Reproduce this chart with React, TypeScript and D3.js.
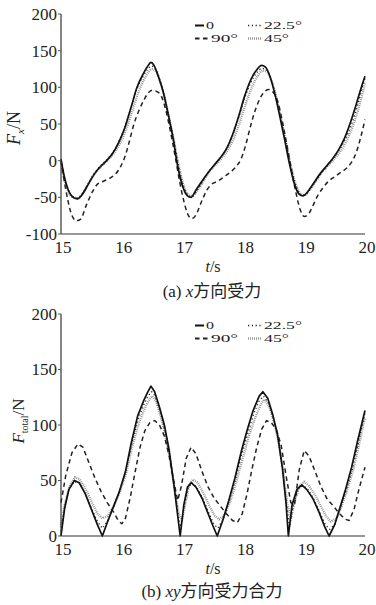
import React from "react";
import * as d3 from "d3";

type Pt = [number, number];

// shared axis values
const timeTicks = [15, 16, 17, 18, 19, 20];
const fxTicks = [-100, -50, 0, 50, 100, 150, 200];
const ftTicks = [0, 50, 100, 150, 200];
const angleNames = ["0", "22.5°", "90°", "45°"];

// (a) x-direction force, [t, F]
const fx0: Pt[] = [
  [15.0, 2], [15.05, -20], [15.12, -40], [15.2, -50], [15.27, -52], [15.35, -46], [15.45, -32],
  [15.55, -18], [15.65, -8], [15.75, 0], [15.85, 10], [15.95, 25], [16.05, 45], [16.15, 72],
  [16.25, 100], [16.35, 118], [16.42, 128], [16.48, 134], [16.53, 130], [16.6, 115], [16.68, 94],
  [16.76, 64], [16.84, 32], [16.92, -8], [17.0, -35], [17.08, -48], [17.14, -50], [17.22, -40],
  [17.3, -30], [17.42, -16], [17.52, -6], [17.62, 4], [17.72, 16], [17.82, 35], [17.92, 60],
  [18.02, 88], [18.12, 110], [18.22, 124], [18.3, 130], [18.36, 128], [18.44, 114], [18.52, 90],
  [18.6, 60], [18.68, 28], [18.76, -5], [18.84, -32], [18.92, -46], [18.98, -48], [19.06, -42],
  [19.16, -30], [19.26, -18], [19.36, -8], [19.46, 2], [19.56, 14], [19.66, 30], [19.76, 52],
  [19.86, 78], [19.94, 100], [20.0, 115],
];
const fx225: Pt[] = [
  [15.0, 0], [15.05, -22], [15.12, -40], [15.2, -49], [15.27, -51], [15.35, -45], [15.45, -31],
  [15.55, -17], [15.65, -7], [15.75, 1], [15.85, 11], [15.95, 26], [16.05, 46], [16.15, 72],
  [16.25, 98], [16.35, 115], [16.42, 124], [16.49, 129], [16.55, 126], [16.62, 112], [16.7, 88],
  [16.78, 58], [16.86, 26], [16.94, -10], [17.02, -36], [17.09, -47], [17.15, -49], [17.23, -42],
  [17.32, -30], [17.42, -16], [17.52, -6], [17.62, 4], [17.72, 16], [17.82, 34], [17.92, 58],
  [18.02, 85], [18.12, 106], [18.22, 120], [18.31, 126], [18.38, 124], [18.46, 110], [18.54, 86],
  [18.62, 56], [18.7, 24], [18.78, -8], [18.86, -33], [18.94, -46], [19.0, -47], [19.08, -41],
  [19.18, -29], [19.28, -17], [19.38, -7], [19.48, 3], [19.58, 15], [19.68, 30], [19.78, 50],
  [19.88, 76], [19.95, 98], [20.0, 112],
];
const fx45: Pt[] = [
  [15.0, -2], [15.05, -24], [15.12, -42], [15.2, -50], [15.28, -51], [15.36, -44], [15.46, -30],
  [15.56, -17], [15.66, -8], [15.76, 0], [15.86, 9], [15.96, 22], [16.06, 40], [16.16, 64],
  [16.26, 90], [16.36, 110], [16.44, 121], [16.5, 125], [16.56, 122], [16.63, 108], [16.71, 84],
  [16.79, 54], [16.87, 22], [16.95, -12], [17.03, -37], [17.1, -47], [17.16, -48], [17.24, -41],
  [17.34, -28], [17.44, -15], [17.54, -6], [17.64, 3], [17.74, 14], [17.84, 30], [17.94, 52],
  [18.04, 78], [18.14, 100], [18.24, 116], [18.32, 123], [18.39, 121], [18.47, 107], [18.55, 83],
  [18.63, 53], [18.71, 22], [18.79, -10], [18.87, -34], [18.95, -46], [19.01, -47], [19.09, -40],
  [19.19, -28], [19.29, -16], [19.39, -7], [19.49, 2], [19.59, 12], [19.69, 26], [19.79, 45],
  [19.89, 70], [19.96, 92], [20.0, 106],
];
const fx90: Pt[] = [
  [15.0, 0], [15.08, -40], [15.16, -70], [15.25, -82], [15.32, -80], [15.42, -60], [15.52, -42],
  [15.6, -32], [15.7, -28], [15.8, -24], [15.9, -18], [15.98, -8], [16.05, 5], [16.12, 25],
  [16.2, 50], [16.28, 68], [16.36, 82], [16.44, 93], [16.5, 96], [16.58, 94], [16.65, 88],
  [16.72, 70], [16.8, 40], [16.88, 5], [16.95, -28], [17.02, -55], [17.08, -72], [17.15, -79],
  [17.22, -74], [17.3, -58], [17.4, -40], [17.48, -32], [17.58, -28], [17.68, -22], [17.78, -16],
  [17.88, -8], [17.96, 2], [18.04, 22], [18.12, 48], [18.2, 70], [18.28, 86], [18.36, 95],
  [18.42, 97], [18.5, 92], [18.56, 82], [18.63, 58], [18.7, 28], [18.78, -8], [18.86, -42],
  [18.93, -66], [19.0, -76], [19.06, -74], [19.14, -62], [19.22, -48], [19.3, -38], [19.4, -28],
  [19.5, -22], [19.6, -16], [19.7, -10], [19.78, -2], [19.86, 12], [19.93, 32], [20.0, 56],
];

// (b) resultant xy force, [t, F]
const ft0: Pt[] = [
  [15.0, 0], [15.06, 25], [15.13, 42], [15.22, 50], [15.3, 48], [15.4, 38], [15.5, 24],
  [15.6, 10], [15.68, 0], [15.76, 12], [15.86, 26], [15.96, 40], [16.06, 58], [16.16, 85],
  [16.26, 108], [16.36, 122], [16.43, 130], [16.48, 135], [16.54, 130], [16.62, 116], [16.7, 100],
  [16.78, 77], [16.86, 45], [16.92, 18], [16.96, 0], [17.02, 28], [17.08, 44], [17.14, 48],
  [17.22, 44], [17.32, 34], [17.42, 20], [17.5, 9], [17.57, 0], [17.66, 14], [17.76, 32],
  [17.86, 52], [17.96, 75], [18.06, 95], [18.16, 113], [18.26, 126], [18.32, 130], [18.4, 124],
  [18.48, 110], [18.56, 92], [18.64, 62], [18.7, 30], [18.74, 0], [18.8, 28], [18.88, 42],
  [18.96, 46], [19.04, 42], [19.14, 34], [19.24, 22], [19.34, 8], [19.41, 0], [19.5, 10],
  [19.58, 24], [19.68, 42], [19.78, 62], [19.88, 86], [19.96, 104], [20.0, 113],
];
const ft225: Pt[] = [
  [15.0, 4], [15.06, 26], [15.13, 42], [15.22, 49], [15.3, 48], [15.4, 38], [15.5, 25],
  [15.6, 13], [15.68, 7], [15.76, 13], [15.86, 26], [15.96, 40], [16.06, 57], [16.16, 82],
  [16.26, 104], [16.36, 118], [16.43, 126], [16.49, 130], [16.55, 126], [16.63, 112], [16.71, 95],
  [16.79, 72], [16.87, 42], [16.93, 18], [16.97, 8], [17.03, 28], [17.09, 43], [17.15, 48],
  [17.23, 44], [17.33, 34], [17.43, 21], [17.51, 11], [17.58, 7], [17.67, 15], [17.77, 32],
  [17.87, 51], [17.97, 73], [18.07, 92], [18.17, 110], [18.26, 122], [18.33, 126], [18.41, 120],
  [18.49, 106], [18.57, 88], [18.65, 58], [18.71, 28], [18.76, 8], [18.82, 28], [18.9, 42],
  [18.98, 46], [19.06, 42], [19.16, 33], [19.26, 21], [19.35, 10], [19.42, 6], [19.51, 11],
  [19.59, 24], [19.69, 41], [19.79, 60], [19.89, 84], [19.96, 101], [20.0, 110],
];
const ft45: Pt[] = [
  [15.0, 8], [15.06, 28], [15.14, 45], [15.23, 53], [15.31, 51], [15.41, 42], [15.51, 30],
  [15.6, 20], [15.68, 16], [15.77, 18], [15.87, 27], [15.97, 40], [16.07, 56], [16.17, 80],
  [16.27, 100], [16.37, 114], [16.44, 122], [16.5, 126], [16.56, 122], [16.64, 108], [16.72, 90],
  [16.8, 66], [16.88, 38], [16.94, 20], [16.99, 14], [17.05, 30], [17.11, 46], [17.17, 51],
  [17.25, 48], [17.35, 38], [17.45, 26], [17.53, 18], [17.6, 15], [17.69, 19], [17.79, 32],
  [17.89, 50], [17.99, 70], [18.09, 90], [18.19, 106], [18.28, 118], [18.34, 123], [18.42, 117],
  [18.5, 103], [18.58, 84], [18.66, 56], [18.72, 30], [18.78, 15], [18.84, 30], [18.92, 45],
  [19.0, 49], [19.08, 45], [19.18, 37], [19.28, 26], [19.37, 17], [19.44, 13], [19.53, 16],
  [19.61, 26], [19.71, 42], [19.81, 60], [19.91, 84], [19.97, 100], [20.0, 106],
];
const ft90: Pt[] = [
  [15.0, 30], [15.08, 55], [15.18, 75], [15.28, 83], [15.36, 80], [15.46, 66], [15.56, 52],
  [15.66, 40], [15.76, 30], [15.86, 22], [15.94, 14], [16.0, 11], [16.06, 16], [16.14, 35],
  [16.22, 58], [16.3, 80], [16.38, 95], [16.46, 102], [16.54, 104], [16.62, 100], [16.7, 90],
  [16.78, 72], [16.86, 48], [16.92, 32], [16.98, 45], [17.06, 70], [17.14, 80], [17.22, 74],
  [17.32, 58], [17.42, 44], [17.52, 34], [17.62, 27], [17.72, 20], [17.82, 14], [17.9, 12],
  [17.98, 20], [18.06, 38], [18.14, 60], [18.22, 80], [18.3, 96], [18.38, 104], [18.46, 102],
  [18.54, 96], [18.62, 82], [18.7, 55], [18.78, 30], [18.84, 28], [18.92, 60], [19.0, 77],
  [19.08, 72], [19.18, 58], [19.28, 44], [19.38, 33], [19.48, 27], [19.58, 20], [19.68, 15],
  [19.74, 14], [19.82, 24], [19.9, 42], [20.0, 62],
];

const serif = "'Liberation Serif', 'Times New Roman', Times, serif";
const cjk = "'Noto Sans CJK SC', sans-serif";

// line styles, in the same order as angleNames
const styles = [
  { stroke: "#111", dash: undefined, width: 1.7 },
  { stroke: "#222", dash: "1.2,2.6", width: 1.3 },
  { stroke: "#222", dash: "4.5,3.5", width: 1.5 },
  { stroke: "#8e8e8e", dash: "0.9,1.1", width: 2.3 },
];
// stretched legend text widths (the scanned figure is wide)
const legendTextWidth = [8, 38, 27, 25];

const x0 = 61,
  x1 = 365;

function Panel({ series, yDomain, yTicks, top, bottom, curve, yLabel, caption }) {
  const xScale = d3.scaleLinear().domain([15, 20]).range([x0, x1]);
  const yScale = d3.scaleLinear().domain(yDomain).range([bottom, top]);
  const line = d3
    .line<Pt>()
    .x((d) => xScale(d[0]))
    .y((d) => yScale(d[1]))
    .curve(curve);

  // draw grey 45 first, then 90, 22.5 and the solid line on top
  const order = [3, 2, 1, 0];

  const legendRows = [
    [0, 1],
    [2, 3],
  ];

  return (
    <g>
      {order.map((i) => (
        <path
          key={"s" + i}
          d={line(series[i])}
          fill="none"
          stroke={styles[i].stroke}
          strokeWidth={styles[i].width}
          strokeDasharray={styles[i].dash}
          strokeLinejoin="round"
        />
      ))}

      <line x1={x0} x2={x0} y1={top} y2={bottom} stroke="#333" strokeWidth={1.2} />
      <line x1={x0} x2={x1} y1={bottom} y2={bottom} stroke="#333" strokeWidth={1.2} />

      {yTicks.map((t) => (
        <g key={"yt" + t}>
          <line x1={x0 - 3} x2={x0} y1={yScale(t)} y2={yScale(t)} stroke="#555" />
          <text
            x={57}
            y={yScale(t)}
            dy="0.35em"
            textAnchor="end"
            fontFamily={serif}
            fontSize={17}
            fill="#222"
          >
            {t}
          </text>
        </g>
      ))}

      {timeTicks.map((t) => (
        <text
          key={"xt" + t}
          x={xScale(t) + 2}
          y={bottom + 19}
          textAnchor="middle"
          fontFamily={serif}
          fontSize={17}
          fill="#222"
        >
          {t}
        </text>
      ))}

      <text x={213} y={bottom + 38} textAnchor="middle" fontFamily={serif} fontSize={16} fill="#222">
        <tspan fontStyle="italic">t</tspan>/s
      </text>

      {yLabel}

      {legendRows.map((row, r) =>
        row.map((i, c) => {
          const lx = 195 + c * 53,
            ly = top + 15 + r * 13,
            len = c === 0 && r === 0 ? 9 : 14;
          return (
            <g key={"lg" + i}>
              <line
                x1={lx}
                x2={lx + len}
                y1={ly - 3.5}
                y2={ly - 3.5}
                stroke={styles[i].stroke}
                strokeWidth={styles[i].width + 0.3}
                strokeDasharray={styles[i].dash}
              />
              <text
                x={lx + len + 2}
                y={ly}
                fontFamily={serif}
                fontSize={11}
                textLength={legendTextWidth[i]}
                lengthAdjust="spacingAndGlyphs"
                fill="#222"
              >
                {angleNames[i]}
              </text>
            </g>
          );
        })
      )}

      {caption}
    </g>
  );
}

export default function App() {
  return (
    <svg
      width={376}
      height={605}
      style={{ position: "absolute", left: 0, top: 0, background: "#fff" }}
    >
      <Panel
        series={[fx0, fx225, fx90, fx45]}
        yDomain={[-100, 200]}
        yTicks={fxTicks}
        top={14}
        bottom={234}
        curve={d3.curveMonotoneX}
        yLabel={
          <text transform="translate(20,128) rotate(-90)" textAnchor="middle" fontFamily={serif} fontSize={18} fill="#222">
            <tspan fontStyle="italic">F</tspan>
            <tspan fontStyle="italic" fontSize={11} dy={4}>x</tspan>
            <tspan dy={-4}>/N</tspan>
          </text>
        }
        caption={
          <text x={212} y={297} textAnchor="middle" fontSize={17} fill="#222">
            <tspan fontFamily={serif}>(a) </tspan>
            <tspan fontFamily={serif} fontStyle="italic">x</tspan>
            <tspan fontFamily={cjk} fontSize={17}>方向受力</tspan>
          </text>
        }
      />
      <Panel
        series={[ft0, ft225, ft90, ft45]}
        yDomain={[0, 200]}
        yTicks={ftTicks}
        top={314}
        bottom={536}
        curve={d3.curveLinear}
        yLabel={
          <text transform="translate(24,421) rotate(-90)" textAnchor="middle" fontFamily={serif} fontSize={17} fill="#222">
            <tspan fontStyle="italic">F</tspan>
            <tspan fontSize={10} dy={4}>total</tspan>
            <tspan dy={-4}>/N</tspan>
          </text>
        }
        caption={
          <text x={212} y={597} textAnchor="middle" fontSize={17} fill="#222">
            <tspan fontFamily={serif}>(b) </tspan>
            <tspan fontFamily={serif} fontStyle="italic">xy</tspan>
            <tspan fontFamily={cjk} fontSize={17}>方向受力合力</tspan>
          </text>
        }
      />
    </svg>
  );
}
